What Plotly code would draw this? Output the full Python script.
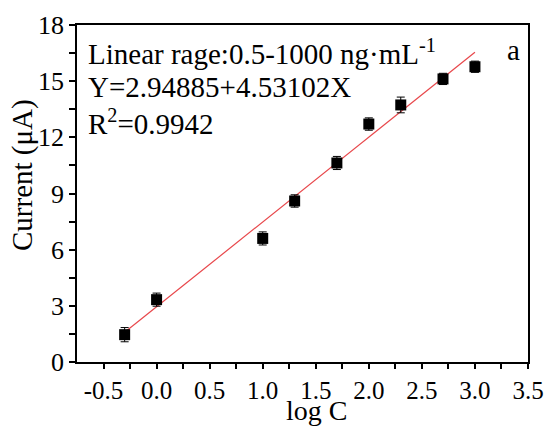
import plotly.graph_objects as go

# Data
log_c = [-0.301, 0.0, 1.0, 1.301, 1.699, 2.0, 2.301, 2.699, 3.0]
current = [1.46, 3.33, 6.6, 8.6, 10.63, 12.71, 13.73, 15.12, 15.77]
err = [0.38, 0.35, 0.35, 0.33, 0.35, 0.33, 0.42, 0.3, 0.3]
intercept = 2.94885
slope = 4.53102
fit_x = [-0.301, 3.0]
fit_y = [intercept + slope * x for x in fit_x]
x_tickvals = [-0.5, 0.0, 0.5, 1.0, 1.5, 2.0, 2.5, 3.0, 3.5]
x_ticktext = ["-0.5", "0.0", "0.5", "1.0", "1.5", "2.0", "2.5", "3.0", "3.5"]
y_tickvals = [0, 3, 6, 9, 12, 15, 18]

FONT = "Liberation Serif"
L, R, T, B = 77, 20, 25, 65
W, H = 548, 427
pw, ph = W - L - R, H - T - B

def px(x):
    return (x - L) / pw

def py(y):
    return (H - B - y) / ph

fig = go.Figure()
fig.add_trace(go.Scatter(x=fit_x, y=fit_y, mode="lines",
                         line=dict(color="#e8474b", width=1.2), showlegend=False))
fig.add_trace(go.Scatter(x=log_c, y=current, mode="markers",
                         marker=dict(symbol="square", size=11, color="black"),
                         error_y=dict(type="data", array=err, color="black",
                                      thickness=1, width=4),
                         showlegend=False))

axis_common = dict(showline=True, linecolor="black", linewidth=1.5, mirror=True,
                   ticks="outside", ticklen=6, tickwidth=1.5, tickcolor="black",
                   showgrid=False, zeroline=False,
                   tickfont=dict(family=FONT, size=26, color="black"))

fig.update_xaxes(range=[-0.75, 3.5], tickvals=x_tickvals, ticktext=x_ticktext,
                 minor=dict(ticks="outside", ticklen=6, tickvals=[-0.25, 0.25, 0.75, 1.25, 1.75, 2.25, 2.75, 3.25],
                            tickwidth=1.5, tickcolor="black"),
                 **axis_common)
fig.update_xaxes(ticklen=5, minor_ticklen=5, tickfont_size=25)
fig.update_yaxes(range=[0, 18], tickvals=y_tickvals,
                 minor=dict(ticks="outside", ticklen=6, dtick=1.5, tick0=0,
                            tickwidth=1.5, tickcolor="black"),
                 **axis_common)

fig.add_annotation(xref="paper", yref="paper", x=px(316), y=py(427), xanchor="center",
                   yanchor="bottom", showarrow=False, text="log C",
                   font=dict(family=FONT, size=28, color="black"), borderpad=0)
fig.add_annotation(xref="paper", yref="paper", x=px(22), y=py(175), xanchor="center",
                   yanchor="middle", showarrow=False, text="Current (μA)",
                   textangle=-90, font=dict(family=FONT, size=29, color="black"))

ann_font = dict(family=FONT, size=29, color="black")
fig.add_annotation(xref="paper", yref="paper", x=px(86), y=py(52), xanchor="left",
                   yanchor="middle", showarrow=False,
                   text="Linear rage:0.5-1000 ng·mL<sup>-1</sup>", font=ann_font)
fig.add_annotation(xref="paper", yref="paper", x=px(86), y=py(87), xanchor="left",
                   yanchor="middle", showarrow=False,
                   text="Y=2.94885+4.53102X", font=ann_font)
fig.add_annotation(xref="paper", yref="paper", x=px(86), y=py(122), xanchor="left",
                   yanchor="middle", showarrow=False,
                   text="R<sup>2</sup>=0.9942", font=ann_font)
fig.add_annotation(xref="paper", yref="paper", x=px(505), y=py(50), xanchor="left",
                   yanchor="middle", showarrow=False,
                   text="a", font=ann_font)

fig.update_layout(width=W, height=H, margin=dict(l=L, r=R, t=T, b=B, autoexpand=False),
                  plot_bgcolor="white", paper_bgcolor="white")

fig.write_html("out.html")
